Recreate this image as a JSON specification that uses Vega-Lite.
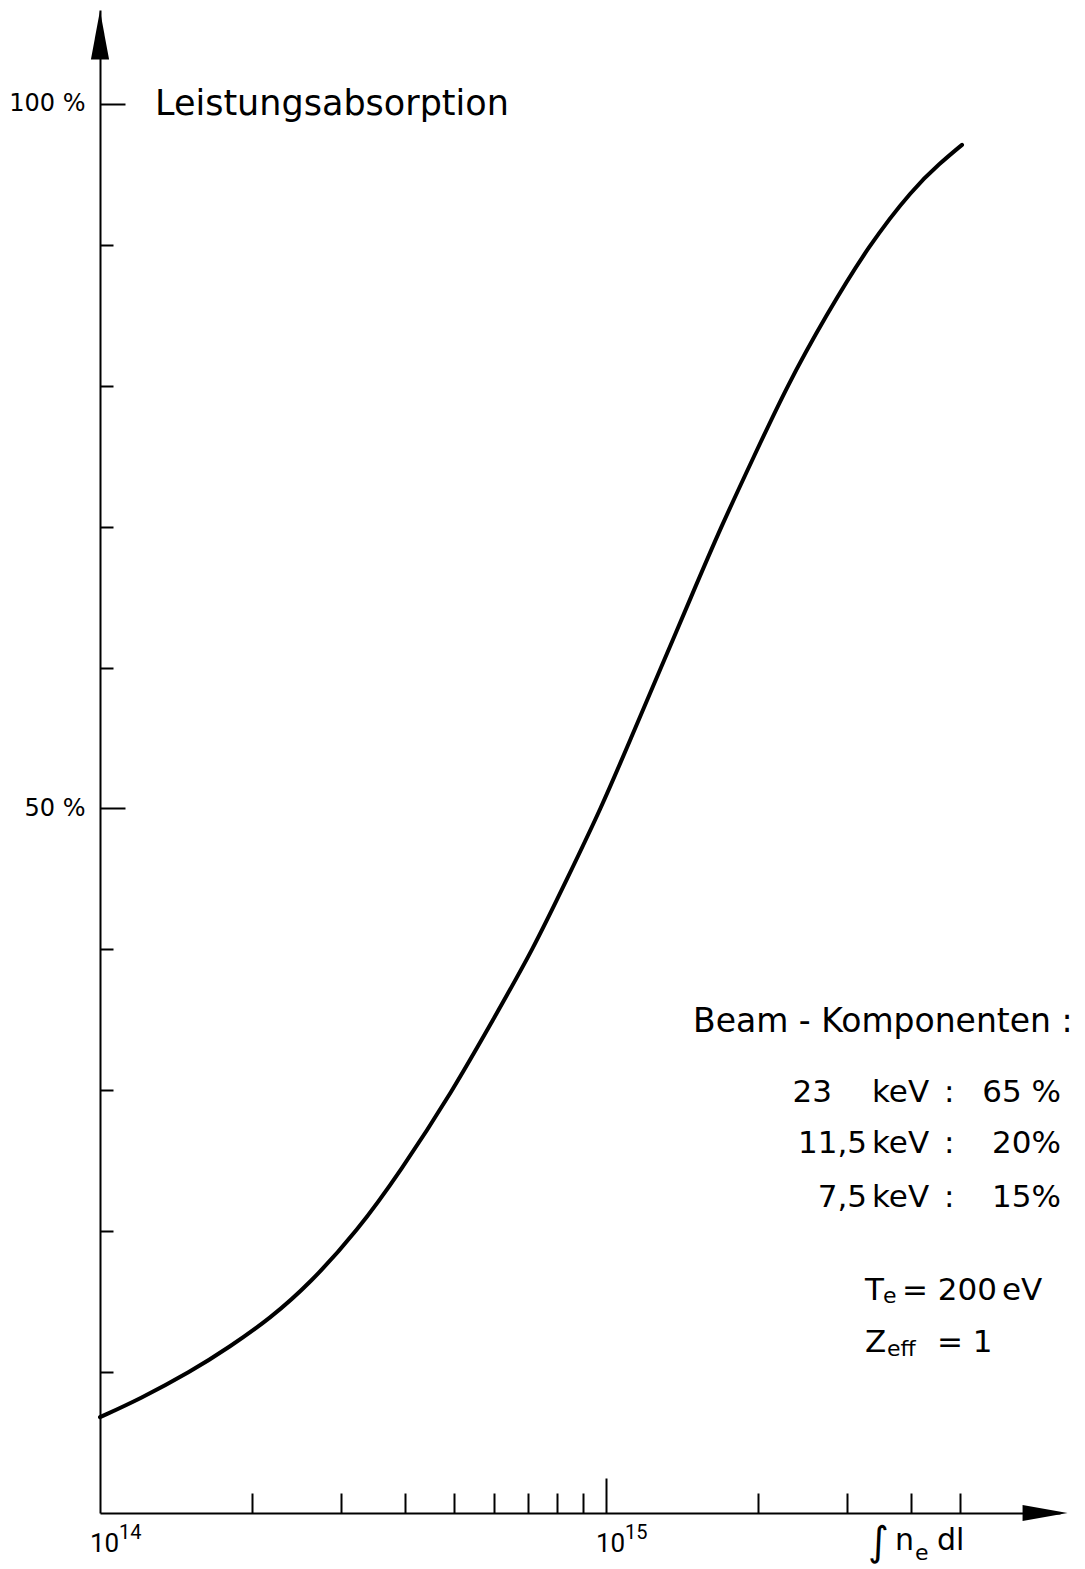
{
  "$schema": "https://vega.github.io/schema/vega-lite/v6.json",
  "width": 960,
  "height": 1503,
  "autosize": {"type": "none"},
  "padding": {"left": 100, "top": 10, "right": 25, "bottom": 56},
  "background": "white",
  "config": {
    "view": {"stroke": null},
    "font": "DejaVu Sans",
    "text": {"font": "DejaVu Sans", "color": "black", "baseline": "alphabetic"},
    "axis": {
      "grid": false,
      "title": null,
      "domainColor": "black",
      "domainWidth": 2,
      "tickColor": "black",
      "tickWidth": 2,
      "labelColor": "black",
      "labelFont": "DejaVu Sans"
    }
  },
  "datasets": {
    "absorption": [
      {"n": 1.0000e14, "p": 6.8},
      {"n": 1.1997e14, "p": 8.1},
      {"n": 1.5063e14, "p": 10.0},
      {"n": 1.8066e14, "p": 11.8},
      {"n": 2.1677e14, "p": 13.8},
      {"n": 2.6007e14, "p": 16.3},
      {"n": 3.2206e14, "p": 20.0},
      {"n": 3.9160e14, "p": 24.2},
      {"n": 4.9838e14, "p": 30.0},
      {"n": 5.9794e14, "p": 35.0},
      {"n": 7.1743e14, "p": 40.0},
      {"n": 8.3747e14, "p": 45.0},
      {"n": 9.7752e14, "p": 50.0},
      {"n": 1.1205e15, "p": 55.0},
      {"n": 1.2845e15, "p": 60.0},
      {"n": 1.4722e15, "p": 65.0},
      {"n": 1.6878e15, "p": 70.0},
      {"n": 1.9613e15, "p": 75.0},
      {"n": 2.2793e15, "p": 80.0},
      {"n": 2.7214e15, "p": 85.0},
      {"n": 3.3097e15, "p": 90.0},
      {"n": 4.0446e15, "p": 94.0},
      {"n": 4.5717e15, "p": 95.8},
      {"n": 5.0527e15, "p": 97.1}
    ],
    "decades": [
      {"v": 1e14, "e": "14"},
      {"v": 1e15, "e": "15"}
    ],
    "title": [
      {"x": 1.2845e14, "y": 99.22, "t": "Leistungsabsorption"}
    ],
    "heading": [
      {"x": 1.4857e15, "y": 34.14, "t": "Beam - Komponenten :"}
    ],
    "notesLeft": [
      {"x": 3.355e15, "y": 29.17, "t": "keV"},
      {"x": 3.355e15, "y": 25.55, "t": "keV"},
      {"x": 3.355e15, "y": 21.72, "t": "keV"},
      {"x": 4.656e15, "y": 29.17, "t": ":"},
      {"x": 4.656e15, "y": 25.55, "t": ":"},
      {"x": 4.656e15, "y": 21.72, "t": ":"},
      {"x": 3.250e15, "y": 15.12, "t": "T"},
      {"x": 3.846e15, "y": 15.12, "t": "= 200"},
      {"x": 6.062e15, "y": 15.12, "t": "eV"},
      {"x": 3.250e15, "y": 11.43, "t": "Z"},
      {"x": 4.510e15, "y": 11.43, "t": "= 1"}
    ],
    "notesRight": [
      {"x": 2.796e15, "y": 29.17, "t": "23"},
      {"x": 3.280e15, "y": 25.55, "t": "11,5"},
      {"x": 3.280e15, "y": 21.72, "t": "7,5"},
      {"x": 7.929e15, "y": 29.17, "t": "65 %"},
      {"x": 7.929e15, "y": 25.55, "t": "20%"},
      {"x": 7.929e15, "y": 21.72, "t": "15%"}
    ],
    "subscripts": [
      {"x": 3.527e15, "y": 14.90, "t": "e"},
      {"x": 3.592e15, "y": 11.14, "t": "eff"},
      {"x": 4.081e15, "y": -3.34, "t": "e"}
    ],
    "axisName": [
      {"x": 3.725e15, "y": -2.63, "t": "n"},
      {"x": 4.510e15, "y": -2.63, "t": "dl"}
    ],
    "integral": [
      {"x": 3.294e15, "y": -2.98, "t": "∫"}
    ],
    "xArrow": [{"x": 7.374e15, "y": 0}],
    "yArrow": [{"x": 1e14, "y": 104.9}]
  },
  "layer": [
    {
      "data": {"name": "absorption"},
      "mark": {"type": "line", "color": "black", "strokeWidth": 4, "interpolate": "basis", "strokeCap": "round"},
      "encoding": {
        "x": {
          "field": "n", "type": "quantitative",
          "scale": {"type": "log", "domain": [1e14, 7.892e15], "nice": false},
          "axis": {"orient": "bottom", "ticks": false, "labels": false, "domain": true}
        },
        "y": {
          "field": "p", "type": "quantitative",
          "scale": {"domain": [0, 106.67], "nice": false, "zero": false},
          "axis": {
            "orient": "left", "values": [50, 100], "ticks": false, "domain": true,
            "labelExpr": "datum.value + ' %'", "labelFontSize": 24, "labelPadding": 15
          }
        }
      }
    },
    {
      "data": {"name": "xArrow"},
      "mark": {"type": "point", "filled": true, "color": "black", "opacity": 1, "size": 2025, "shape": "M -1 -0.36 L 1 0 L -1 0.36 Z"},
      "encoding": {
        "x": {
          "field": "x", "type": "quantitative",
          "scale": {"type": "log", "domain": [1e14, 7.892e15], "nice": false},
          "axis": {
            "orient": "bottom", "domain": false, "labels": false, "tickSize": -20,
            "values": [2e14, 3e14, 4e14, 5e14, 6e14, 7e14, 8e14, 9e14, 2e15, 3e15, 4e15, 5e15]
          }
        },
        "y": {
          "field": "y", "type": "quantitative",
          "scale": {"domain": [0, 106.67], "nice": false, "zero": false},
          "axis": {"orient": "left", "domain": false, "labels": false, "tickSize": -13, "values": [10, 20, 30, 40, 60, 70, 80, 90]}
        }
      }
    },
    {
      "data": {"name": "yArrow"},
      "mark": {"type": "point", "filled": true, "color": "black", "opacity": 1, "size": 2401, "shape": "M 0 -1 L 0.37 1 L -0.37 1 Z"},
      "encoding": {
        "x": {
          "field": "x", "type": "quantitative",
          "scale": {"type": "log", "domain": [1e14, 7.892e15], "nice": false},
          "axis": {"orient": "bottom", "domain": false, "labels": false, "tickSize": -35, "values": [1e15]}
        },
        "y": {
          "field": "y", "type": "quantitative",
          "scale": {"domain": [0, 106.67], "nice": false, "zero": false},
          "axis": {"orient": "left", "domain": false, "labels": false, "tickSize": -25, "values": [50, 100]}
        }
      }
    },
    {
      "data": {"name": "decades"},
      "mark": {"type": "text", "align": "left", "font": "Liberation Sans Narrow, Roboto", "fontSize": 26, "dx": -10},
      "encoding": {
        "x": {"field": "v", "type": "quantitative", "scale": {"type": "log", "domain": [1e14, 7.892e15], "nice": false}, "axis": null},
        "y": {"datum": -2.77, "type": "quantitative", "scale": {"domain": [0, 106.67], "nice": false, "zero": false}, "axis": null},
        "text": {"value": "10"}
      }
    },
    {
      "data": {"name": "decades"},
      "mark": {"type": "text", "align": "left", "font": "Liberation Sans Narrow, Roboto", "fontSize": 20, "dx": 19},
      "encoding": {
        "x": {"field": "v", "type": "quantitative", "scale": {"type": "log", "domain": [1e14, 7.892e15], "nice": false}, "axis": null},
        "y": {"datum": -1.85, "type": "quantitative", "scale": {"domain": [0, 106.67], "nice": false, "zero": false}, "axis": null},
        "text": {"field": "e"}
      }
    },
    {
      "data": {"name": "title"},
      "mark": {"type": "text", "align": "left", "fontSize": 35},
      "encoding": {
        "x": {"field": "x", "type": "quantitative", "scale": {"type": "log", "domain": [1e14, 7.892e15], "nice": false}, "axis": null},
        "y": {"field": "y", "type": "quantitative", "scale": {"domain": [0, 106.67], "nice": false, "zero": false}, "axis": null},
        "text": {"field": "t"}
      }
    },
    {
      "data": {"name": "heading"},
      "mark": {"type": "text", "align": "left", "fontSize": 33},
      "encoding": {
        "x": {"field": "x", "type": "quantitative", "scale": {"type": "log", "domain": [1e14, 7.892e15], "nice": false}, "axis": null},
        "y": {"field": "y", "type": "quantitative", "scale": {"domain": [0, 106.67], "nice": false, "zero": false}, "axis": null},
        "text": {"field": "t"}
      }
    },
    {
      "data": {"name": "notesLeft"},
      "mark": {"type": "text", "align": "left", "fontSize": 31},
      "encoding": {
        "x": {"field": "x", "type": "quantitative", "scale": {"type": "log", "domain": [1e14, 7.892e15], "nice": false}, "axis": null},
        "y": {"field": "y", "type": "quantitative", "scale": {"domain": [0, 106.67], "nice": false, "zero": false}, "axis": null},
        "text": {"field": "t"}
      }
    },
    {
      "data": {"name": "notesRight"},
      "mark": {"type": "text", "align": "right", "fontSize": 31},
      "encoding": {
        "x": {"field": "x", "type": "quantitative", "scale": {"type": "log", "domain": [1e14, 7.892e15], "nice": false}, "axis": null},
        "y": {"field": "y", "type": "quantitative", "scale": {"domain": [0, 106.67], "nice": false, "zero": false}, "axis": null},
        "text": {"field": "t"}
      }
    },
    {
      "data": {"name": "subscripts"},
      "mark": {"type": "text", "align": "left", "fontSize": 22},
      "encoding": {
        "x": {"field": "x", "type": "quantitative", "scale": {"type": "log", "domain": [1e14, 7.892e15], "nice": false}, "axis": null},
        "y": {"field": "y", "type": "quantitative", "scale": {"domain": [0, 106.67], "nice": false, "zero": false}, "axis": null},
        "text": {"field": "t"}
      }
    },
    {
      "data": {"name": "axisName"},
      "mark": {"type": "text", "align": "left", "fontSize": 30},
      "encoding": {
        "x": {"field": "x", "type": "quantitative", "scale": {"type": "log", "domain": [1e14, 7.892e15], "nice": false}, "axis": null},
        "y": {"field": "y", "type": "quantitative", "scale": {"domain": [0, 106.67], "nice": false, "zero": false}, "axis": null},
        "text": {"field": "t"}
      }
    },
    {
      "data": {"name": "integral"},
      "mark": {"type": "text", "align": "left", "fontSize": 40},
      "encoding": {
        "x": {"field": "x", "type": "quantitative", "scale": {"type": "log", "domain": [1e14, 7.892e15], "nice": false}, "axis": null},
        "y": {"field": "y", "type": "quantitative", "scale": {"domain": [0, 106.67], "nice": false, "zero": false}, "axis": null},
        "text": {"field": "t"}
      }
    }
  ],
  "resolve": {"axis": {"x": "independent", "y": "independent"}}
}
